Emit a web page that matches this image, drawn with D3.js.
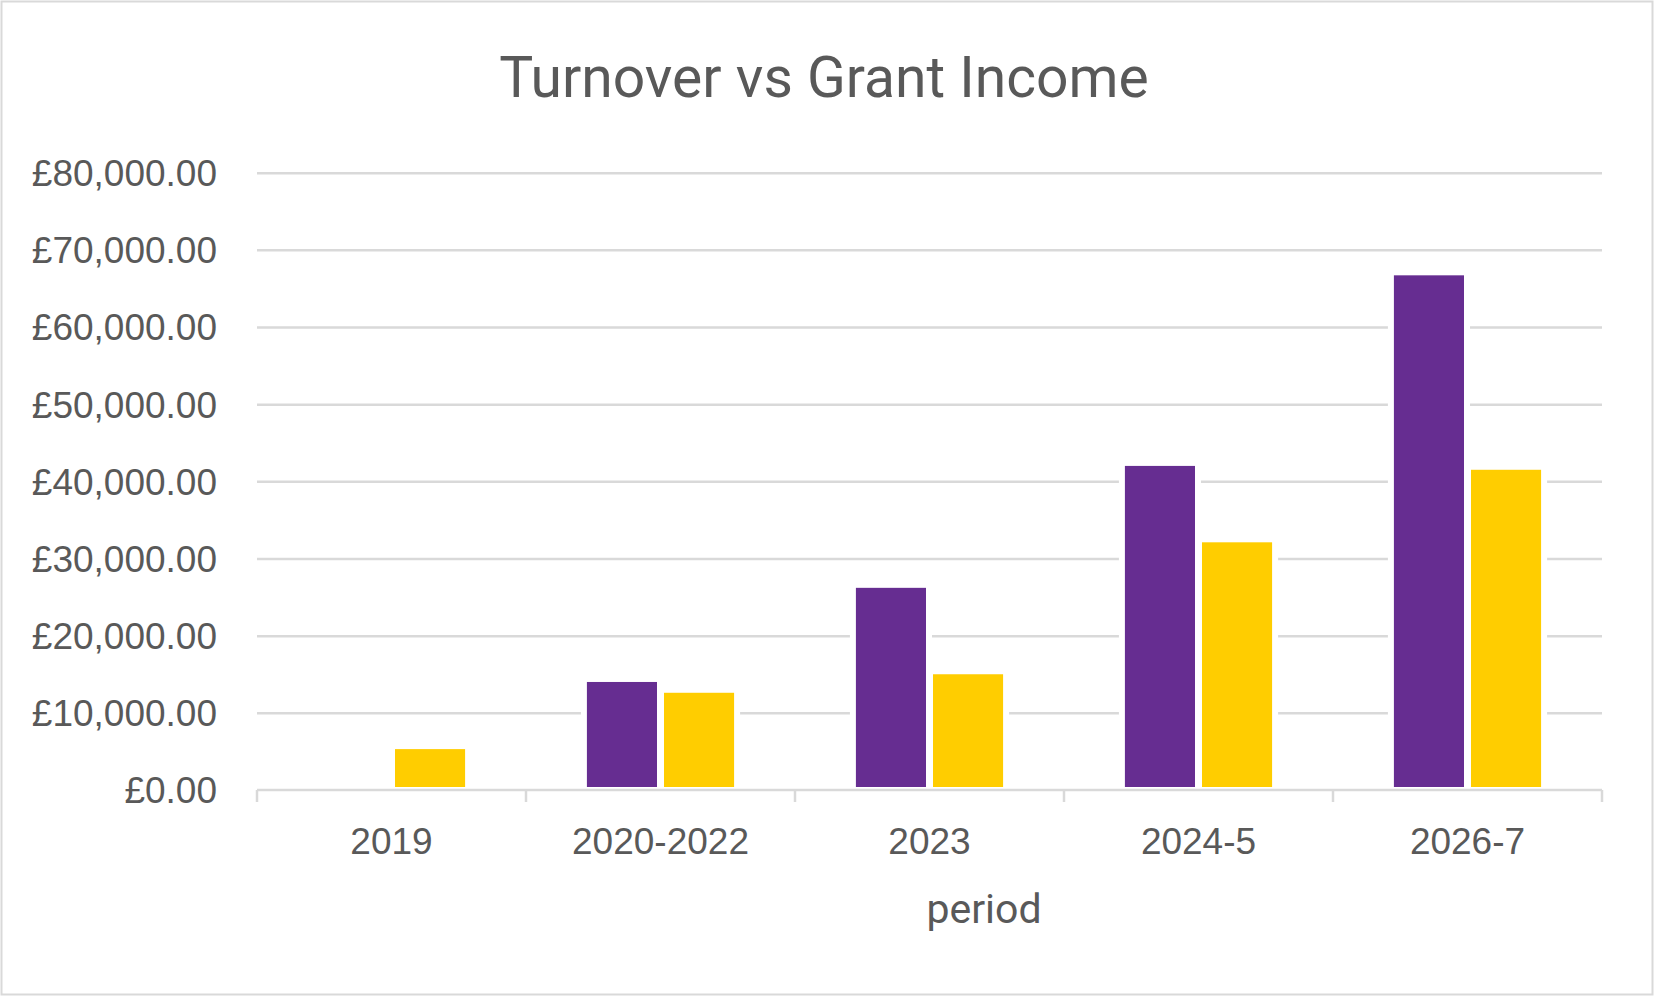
<!doctype html>
<html>
<head>
<meta charset="utf-8">
<script src="https://cdn.jsdelivr.net/npm/d3@7/dist/d3.min.js"></script>
<style>
  html, body { margin: 0; padding: 0; background: #fff; }
  svg { display: block; font-family: Roboto, "Open Sans", sans-serif; }
</style>
</head>
<body>
<svg id="chart" width="1659" height="999"></svg>
<script>
  var periods = ['2019', '2020-2022', '2023', '2024-5', '2026-7'];
  var seriesNames = ['Turnover', 'Grant Income'];
  var turnover = [null, 14000, 26200, 42000, 66700];
  var grantIncome = [5300, 12600, 15000, 32100, 41500];
  var yTicks = [0, 10000, 20000, 30000, 40000, 50000, 60000, 70000, 80000];

  (function () {
    var colors = { 'Turnover': '#662d91', 'Grant Income': '#ffcd00' };
    var textColor = '#595959';
    var gridColor = '#d9d9d9';

    var rows = periods.map(function (p, i) {
      return { period: p, values: [
        { series: 'Turnover', value: turnover[i] },
        { series: 'Grant Income', value: grantIncome[i] }
      ] };
    });

    var svg = d3.select('#chart');

    // chart area border
    svg.append('rect')
      .attr('x', 1.5).attr('y', 1.5)
      .attr('width', 1651).attr('height', 993)
      .attr('fill', '#fff')
      .attr('stroke', gridColor)
      .attr('stroke-width', 2);

    var plotLeft = 257, plotRight = 1602, plotTop = 172.7, plotBottom = 790;

    var x0 = d3.scaleBand().domain(periods).range([plotLeft, plotRight]).padding(0);
    var x1 = d3.scaleBand().domain(seriesNames)
      .range([0, x0.bandwidth()])
      .paddingInner(0.0909)
      .paddingOuter(0.79);
    var y = d3.scaleLinear().domain([0, 80000]).range([plotBottom, plotTop]);

    var money = d3.format(',.2f');

    // gridlines + y labels
    var yAxis = svg.append('g')
      .attr('transform', 'translate(' + plotLeft + ',0)')
      .call(d3.axisLeft(y)
        .tickValues(yTicks)
        .tickSize(-(plotRight - plotLeft))
        .tickPadding(40)
        .tickFormat(function (d) { return '£' + money(d); }));
    yAxis.select('.domain').remove();
    yAxis.selectAll('.tick line')
      .attr('stroke', gridColor)
      .attr('stroke-width', 2.5)
      .filter(function (d) { return d === 0; }).remove();
    yAxis.selectAll('.tick text')
      .attr('fill', textColor)
      .style('font-size', '37px')
      .attr('dy', '0.35em');

    // bars, each with a white halo that breaks the gridlines
    var groups = svg.append('g').selectAll('g')
      .data(rows)
      .join('g')
      .attr('transform', function (d) { return 'translate(' + x0(d.period) + ',0)'; });

    var bars = groups.selectAll('g')
      .data(function (d) { return d.values.filter(function (v) { return v.value != null; }); })
      .join('g');

    bars.append('rect')
      .attr('x', function (d) { return x1(d.series) - 6; })
      .attr('y', function (d) { return y(d.value) - 6; })
      .attr('width', x1.bandwidth() + 12)
      .attr('height', function (d) { return plotBottom - y(d.value) + 6; })
      .attr('fill', '#fff');

    bars.append('rect')
      .attr('x', function (d) { return x1(d.series); })
      .attr('y', function (d) { return y(d.value); })
      .attr('width', x1.bandwidth())
      .attr('height', function (d) { return plotBottom - 3 - y(d.value); })
      .attr('fill', function (d) { return colors[d.series]; });

    // x axis
    var xAxis = svg.append('g')
      .attr('transform', 'translate(0,' + plotBottom + ')')
      .call(d3.axisBottom(x0).tickSize(0).tickPadding(0));
    xAxis.select('.domain').remove();
    xAxis.selectAll('.tick text')
      .attr('fill', textColor)
      .attr('y', 64)
      .attr('dy', 0)
      .style('font-size', '37px');

    svg.append('line')
      .attr('x1', plotLeft).attr('x2', plotRight)
      .attr('y1', plotBottom).attr('y2', plotBottom)
      .attr('stroke', gridColor)
      .attr('stroke-width', 2.5);

    var bounds = periods.map(function (p) { return x0(p); }).concat([plotRight]);
    svg.append('g').selectAll('line')
      .data(bounds)
      .join('line')
      .attr('x1', function (d) { return d; }).attr('x2', function (d) { return d; })
      .attr('y1', plotBottom).attr('y2', plotBottom + 12)
      .attr('stroke', gridColor)
      .attr('stroke-width', 2.5);

    // titles
    svg.append('text')
      .attr('x', 824).attr('y', 97)
      .attr('text-anchor', 'middle')
      .attr('fill', textColor)
      .style('font-size', '57px')
      .text('Turnover vs Grant Income');

    svg.append('text')
      .attr('x', 984).attr('y', 923)
      .attr('text-anchor', 'middle')
      .attr('fill', textColor)
      .style('font-size', '41px')
      .text('period');
  })();
</script>
</body>
</html>
